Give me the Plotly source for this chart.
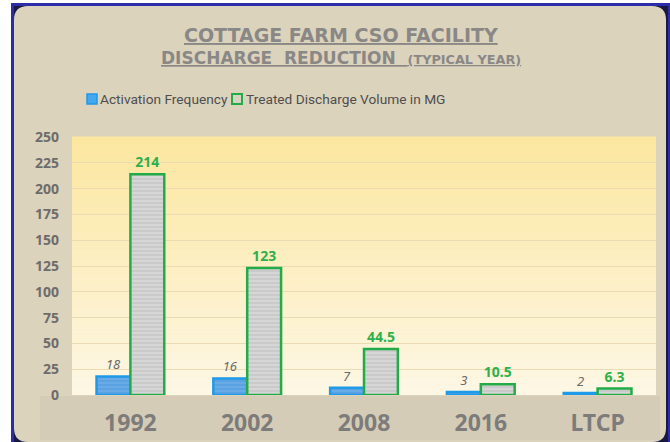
import plotly.graph_objects as go

# ---- data ----
categories = ["1992", "2002", "2008", "2016", "LTCP"]
activation_frequency = [18, 16, 7, 3, 2]
treated_volume_mg = [214, 123, 44.5, 10.5, 6.3]
activation_labels = ["18", "16", "7", "3", "2"]
volume_labels = ["214", "123", "44.5", "10.5", "6.3"]
y_ticks = [0, 25, 50, 75, 100, 125, 150, 175, 200, 225, 250]
series_names = ["Activation Frequency", "Treated Discharge Volume in MG"]

W, H = 670, 442
L, R, T, B = 72, 14, 137, 47
PW, PH = W - L - R, H - T - B


def fx(px):
    return (px - L) / PW


def fy(py):
    return (H - B - py) / PH


fig = go.Figure()

fig.add_trace(go.Bar(
    name=series_names[0],
    x=categories, y=activation_frequency,
    text=activation_labels, textposition="outside", cliponaxis=False,
    textfont=dict(family="Noto Sans", size=13, color="#6a6a6a", style="italic"),
    marker=dict(color="#6aaee8",
                line=dict(color="#1f9ae8", width=2.5),
                pattern=dict(shape="-", fgcolor="#8cc0ee", bgcolor="#5aa2e2",
                             size=4, solidity=0.3)),
))
fig.add_trace(go.Bar(
    name=series_names[1],
    x=categories, y=treated_volume_mg,
    text=volume_labels, textposition="outside", cliponaxis=False,
    textfont=dict(family="Noto Sans", size=14, color="#2eb04c", weight="bold"),
    marker=dict(color="#c8c8c8",
                line=dict(color="#22ac48", width=2.5),
                pattern=dict(shape="-", fgcolor="#b4b4b4", bgcolor="#d6d6d6",
                             size=4, solidity=0.35)),
))

shapes = []
# outer frame
shapes.append(dict(type="rect", xref="paper", yref="paper",
                   x0=fx(11), x1=fx(670), y0=fy(442), y1=fy(3),
                   fillcolor="#2c2ca8", line=dict(width=0), layer="below"))
shapes.append(dict(type="rect", xref="paper", yref="paper",
                   x0=fx(14), x1=fx(668), y0=fy(442), y1=fy(6),
                   fillcolor="#181840", line=dict(width=0), layer="below"))
# rounded beige panel
x0, x1, y0, y1, r = 14, 666, 6, 442, 14
path = (f"M {fx(x0 + r)},{fy(y0)} L {fx(x1 - r)},{fy(y0)} "
        f"Q {fx(x1)},{fy(y0)} {fx(x1)},{fy(y0 + r)} "
        f"L {fx(x1)},{fy(y1 - r)} Q {fx(x1)},{fy(y1)} {fx(x1 - r)},{fy(y1)} "
        f"L {fx(x0 + r)},{fy(y1)} Q {fx(x0)},{fy(y1)} {fx(x0)},{fy(y1 - r)} "
        f"L {fx(x0)},{fy(y0 + r)} Q {fx(x0)},{fy(y0)} {fx(x0 + r)},{fy(y0)} Z")
shapes.append(dict(type="path", xref="paper", yref="paper", path=path,
                   fillcolor="#dcd3bd", line=dict(width=0), layer="below"))
# bottom band under plot
shapes.append(dict(type="rect", xref="paper", yref="paper",
                   x0=fx(40), x1=fx(660), y0=fy(440), y1=fy(396),
                   fillcolor="#d5ccb7", line=dict(width=0), layer="below"))

# vertical gradient plot background
n = 30
top = (252, 231, 160)
bot = (253, 247, 228)
for i in range(n):
    t = i / (n - 1)
    c = tuple(round(bot[k] + (top[k] - bot[k]) * t) for k in range(3))
    shapes.append(dict(type="rect", xref="x domain", yref="y domain",
                       x0=0, x1=1, y0=i / n, y1=(i + 1) / n + 0.002,
                       fillcolor=f"rgb{c}", line=dict(width=0), layer="below"))

# legend swatches
shapes.append(dict(type="rect", xref="paper", yref="paper",
                   x0=fx(87), x1=fx(97), y0=fy(104), y1=fy(94),
                   fillcolor="#44a8f0", line=dict(color="#2296e6", width=1.5), layer="above"))
shapes.append(dict(type="rect", xref="paper", yref="paper",
                   x0=fx(232), x1=fx(242), y0=fy(104), y1=fy(94),
                   fillcolor="#d6d2c4", line=dict(color="#22ac48", width=2), layer="above"))

legend_font = dict(family="Roboto", size=13.7, color="#4e4e4e")
annotations = [
    dict(text="<b><u>COTTAGE FARM CSO FACILITY</u></b>", xref="paper", yref="paper",
         x=fx(341), y=fy(35), showarrow=False, xanchor="center", yanchor="middle",
         font=dict(family="DejaVu Sans", size=19, color="#8a8886")),
    dict(text="<b><u>DISCHARGE  REDUCTION  <span style='font-size:12.8px'>(TYPICAL YEAR)</span></u></b>",
         xref="paper", yref="paper",
         x=fx(341), y=fy(58), showarrow=False, xanchor="center", yanchor="middle",
         font=dict(family="DejaVu Sans", size=17, color="#8a8886")),
    dict(text=series_names[0], xref="paper", yref="paper",
         x=fx(98), y=fy(99), showarrow=False, xanchor="left", yanchor="middle",
         font=legend_font),
    dict(text=series_names[1], xref="paper", yref="paper",
         x=fx(244), y=fy(99), showarrow=False, xanchor="left", yanchor="middle",
         font=legend_font),
]

fig.update_layout(
    width=W, height=H,
    margin=dict(l=L, r=R, t=T, b=B, autoexpand=False),
    paper_bgcolor="white",
    plot_bgcolor="rgba(0,0,0,0)",
    barmode="group", bargap=0.42, bargroupgap=0,
    shapes=shapes, annotations=annotations,
    showlegend=False,
    xaxis=dict(showgrid=False, showline=False, zeroline=False, automargin=False,
               tickfont=dict(family="Noto Sans", size=23, color="#7e7c7a", weight="bold"),
               ticklabelstandoff=12),
    yaxis=dict(range=[0, 250], tickvals=y_ticks, showgrid=True, gridcolor="#eadbb2",
               gridwidth=1, zeroline=False, showline=False, automargin=False,
               tickfont=dict(family="Noto Sans", size=14, color="#6e6c6a", weight="bold"),
               ticklabelstandoff=12),
)

fig.write_html("out.html", config={"displayModeBar": False},
               post_script="document.body.style.margin='0';document.body.style.overflow='hidden';")
